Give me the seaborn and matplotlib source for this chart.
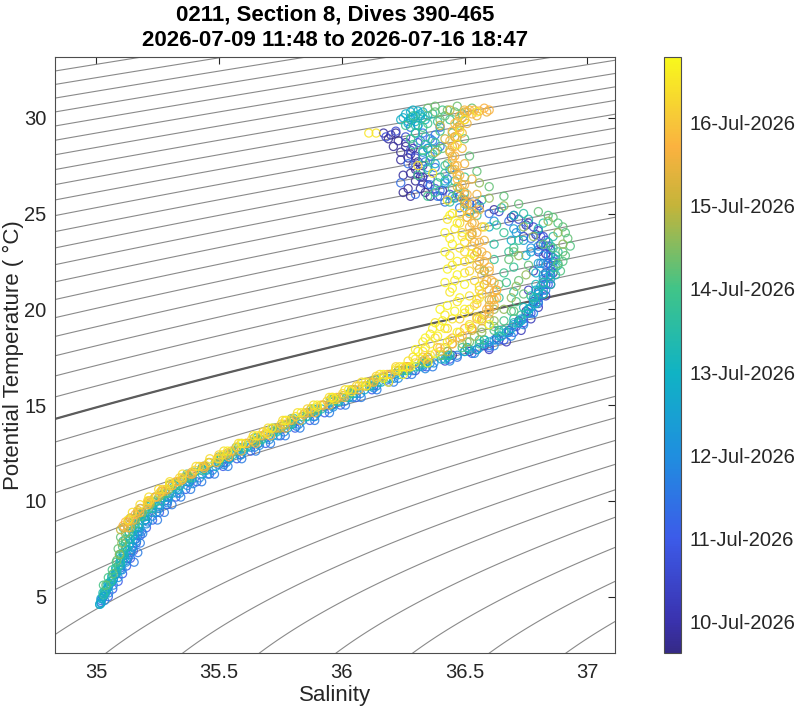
import numpy as np
import pandas as pd
import matplotlib
matplotlib.use('Agg')
import matplotlib.pyplot as plt
import matplotlib.dates as mdates
from matplotlib.colors import LinearSegmentedColormap, Normalize
import seaborn as sns

# Glider 0211, section 8: theta/salinity samples, grouped by dive time
dive_times = ['2026-07-09 18:00', '2026-07-09 20:00', '2026-07-10 05:00', '2026-07-10 14:00',
              '2026-07-11 00:00', '2026-07-11 08:00', '2026-07-11 12:00', '2026-07-11 15:00',
              '2026-07-11 22:00', '2026-07-11 23:00', '2026-07-12 02:00', '2026-07-12 12:00',
              '2026-07-12 17:00', '2026-07-12 20:00', '2026-07-12 22:00', '2026-07-13 05:00',
              '2026-07-13 08:00', '2026-07-13 14:00', '2026-07-13 17:00', '2026-07-13 19:00',
              '2026-07-13 22:00', '2026-07-14 01:00', '2026-07-14 03:00', '2026-07-14 06:00',
              '2026-07-14 08:00', '2026-07-14 15:00', '2026-07-14 17:00', '2026-07-15 00:00',
              '2026-07-15 10:00', '2026-07-15 12:00', '2026-07-15 17:00', '2026-07-15 18:00',
              '2026-07-15 20:00', '2026-07-16 05:00', '2026-07-16 06:00', '2026-07-16 09:00',
              '2026-07-16 12:00', '2026-07-16 15:00', '2026-07-16 17:00']

ts_0709a = [(36.19, 28.9), (36.21, 28.5), (36.24, 28.2), (36.27, 27.9), (36.29, 27.5), (36.28, 27.1),
            (36.30, 26.7), (36.32, 26.3), (36.36, 25.9), (36.26, 28.7), (36.22, 29.2), (36.30, 28.0),
            (36.33, 26.9), (36.25, 26.1), (36.28, 25.9)]

ts_0709b = [(36.45, 17.6), (36.52, 17.8), (36.58, 18.1), (36.63, 18.5), (36.68, 18.9), (36.72, 19.4),
            (36.75, 19.9), (36.78, 20.4), (36.80, 20.9), (36.82, 21.4), (36.83, 21.9), (36.84, 22.4),
            (36.83, 22.9), (36.81, 23.4), (36.79, 23.9), (36.75, 24.4), (36.69, 24.8), (36.62, 25.2),
            (36.55, 25.5), (36.48, 25.9), (36.41, 26.2), (36.35, 26.5), (36.32, 26.9), (36.30, 27.3),
            (36.31, 27.7), (36.28, 28.1), (36.26, 28.5), (36.23, 28.8), (36.20, 29.1), (36.17, 29.2),
            (36.27, 26.3), (36.33, 27.5), (36.25, 27.0), (36.29, 28.4), (36.24, 27.8), (36.34, 26.1)]

ts_0710a = [(36.60, 17.9), (36.67, 18.3), (36.73, 18.9), (36.77, 19.5), (36.80, 20.1), (36.83, 20.7),
            (36.85, 21.3), (36.86, 21.9), (36.86, 22.5), (36.85, 23.1), (36.83, 23.6), (36.80, 24.1),
            (36.76, 24.5), (36.70, 24.9), (36.78, 22.0), (36.80, 23.0), (36.76, 21.0), (36.74, 23.8)]

ts_0710b = [(35.03, 5.0), (35.08, 6.2), (35.13, 7.0), (35.16, 8.0), (35.20, 9.0), (35.28, 10.0),
            (35.38, 11.0), (35.52, 12.0), (35.66, 13.0), (35.80, 14.0), (35.96, 15.0), (36.13, 16.0),
            (36.30, 16.8), (36.42, 17.3), (36.55, 17.9), (36.64, 18.4), (36.71, 19.1), (36.76, 19.8),
            (36.80, 20.6), (36.83, 21.3), (36.85, 22.0), (36.86, 22.7), (36.84, 23.3), (36.82, 23.8),
            (36.78, 24.3), (36.72, 24.7), (36.64, 25.1), (36.56, 25.4), (36.50, 25.7), (36.44, 26.0),
            (36.38, 26.3), (36.36, 26.8), (36.32, 27.2), (36.30, 27.9), (36.28, 28.3), (36.31, 28.7),
            (36.26, 29.0), (36.22, 29.3), (36.18, 29.0), (36.40, 25.9), (36.33, 26.6)]

ts_0711a = [(35.05, 5.0), (35.068, 5.4), (35.09, 5.8), (35.108, 6.2), (35.124, 6.6), (35.14, 7.0),
            (35.152, 7.4), (35.164, 7.8), (35.18, 8.2), (35.205, 8.6), (35.23, 9.0), (35.258, 9.4),
            (35.289, 9.8), (35.325, 10.2), (35.365, 10.6), (35.41, 11.0), (35.462, 11.4), (35.517, 11.8),
            (35.573, 12.2), (35.63, 12.6), (35.69, 13.0), (35.75, 13.4), (35.81, 13.8), (35.87, 14.2),
            (35.93, 14.6), (35.995, 15.0), (36.059, 15.4), (36.123, 15.8), (36.191, 16.2), (36.265, 16.6),
            (36.345, 17.0), (36.44, 17.4), (36.53, 17.7), (36.60, 18.0), (36.66, 18.4), (36.70, 18.8),
            (36.74, 19.3), (36.77, 19.8), (36.80, 20.3), (36.82, 20.8), (36.84, 21.3), (36.85, 21.8),
            (36.85, 22.3), (36.84, 22.8), (36.83, 23.3), (36.81, 23.8)]

ts_0711b = [(35.02, 4.8), (35.05, 5.5), (35.10, 6.5), (35.14, 7.3), (35.17, 8.2), (35.21, 9.2),
            (35.29, 10.2), (35.39, 11.1), (35.50, 11.9), (35.63, 12.8), (35.77, 13.8), (35.90, 14.6),
            (36.03, 15.4), (36.18, 16.3), (36.33, 17.0), (36.47, 17.5), (36.60, 18.1), (36.68, 18.8),
            (36.74, 19.5), (36.79, 20.3), (36.82, 21.0), (36.84, 21.7), (36.82, 22.4), (36.80, 23.1),
            (36.77, 23.7), (36.73, 24.2), (36.68, 24.6), (36.60, 25.0), (36.52, 25.5), (36.45, 25.9),
            (36.40, 26.2), (36.43, 26.8), (36.38, 27.4), (36.36, 28.0), (36.40, 28.5), (36.36, 28.9),
            (36.33, 29.2), (36.28, 29.5), (36.30, 26.0), (36.24, 26.6), (36.27, 27.6)]

ts_0711c = [(36.32, 28.8), (36.35, 28.4), (36.38, 29.1), (36.40, 29.5), (36.36, 26.5), (36.39, 25.9),
            (36.42, 25.6), (36.48, 25.3), (36.34, 27.7)]

ts_0711d = [(35.155, 6.8), (35.17, 7.3), (35.18, 7.8), (35.19, 8.3), (35.25, 9.0), (35.278, 9.4),
            (35.309, 9.8), (35.345, 10.2), (35.385, 10.6), (35.43, 11.0), (35.482, 11.4), (35.537, 11.8),
            (35.593, 12.2), (35.65, 12.6), (35.71, 13.0), (35.77, 13.4), (35.83, 13.8), (35.89, 14.2),
            (35.95, 14.6), (36.015, 15.0), (36.079, 15.4), (36.143, 15.8), (36.211, 16.2), (36.285, 16.6),
            (36.37, 17.0)]

ts_0711e = [(35.025, 4.9), (35.045, 5.4), (35.07, 5.9), (35.10, 6.4), (35.125, 6.9), (35.145, 7.4),
            (35.165, 7.9), (35.185, 8.4), (35.21, 8.9), (35.245, 9.4), (35.29, 9.9), (35.34, 10.4),
            (35.395, 10.9), (35.455, 11.4), (35.52, 11.9), (35.59, 12.4), (35.665, 12.9), (35.74, 13.4),
            (35.815, 13.9), (35.89, 14.4), (35.965, 14.9), (36.045, 15.4), (36.13, 15.9), (36.23, 16.4),
            (36.34, 16.9), (36.44, 17.3), (36.54, 17.7), (36.62, 18.1), (36.69, 18.6), (36.74, 19.2),
            (36.78, 19.8), (36.80, 20.4), (36.83, 21.0), (36.85, 21.6), (36.86, 22.2), (36.85, 22.8)]

ts_0711f = [(35.035, 4.8), (35.052, 5.2), (35.07, 5.6), (35.09, 6.0), (35.106, 6.4), (35.122, 6.8),
            (35.136, 7.2), (35.148, 7.6), (35.16, 8.0), (35.175, 8.4), (35.205, 8.8), (35.23, 9.2),
            (35.258, 9.6), (35.292, 10.0), (35.33, 10.4), (35.372, 10.8), (35.421, 11.2), (35.474, 11.6),
            (35.53, 12.0), (35.586, 12.4), (35.645, 12.8), (35.705, 13.2), (35.765, 13.6), (35.825, 14.0),
            (35.885, 14.4), (35.947, 14.8), (36.012, 15.2), (36.076, 15.6), (36.142, 16.0), (36.213, 16.4),
            (36.29, 16.8), (36.375, 17.2), (36.47, 17.6), (36.56, 18.0), (36.63, 18.4), (36.68, 18.8),
            (36.72, 19.3), (36.76, 19.8), (36.78, 20.3), (36.80, 20.8), (36.82, 21.3), (36.83, 21.8),
            (36.83, 22.3), (36.82, 22.8), (36.80, 23.3)]

ts_0712a = [(35.02, 4.7), (35.04, 5.2), (35.07, 5.9), (35.11, 6.8), (35.15, 7.6), (35.17, 8.4),
            (35.20, 9.0), (35.25, 9.7), (35.31, 10.4), (35.37, 11.0), (35.45, 11.6), (35.54, 12.2),
            (35.60, 12.7), (35.70, 13.3), (35.83, 14.2), (35.95, 15.0), (36.06, 15.6), (36.20, 16.4),
            (36.36, 17.2), (36.50, 17.8), (36.62, 18.4), (36.70, 19.2), (36.76, 20.0), (36.80, 20.8),
            (36.82, 21.6), (36.81, 22.4), (36.77, 23.2), (36.71, 24.0), (36.62, 24.6), (36.55, 25.3),
            (36.47, 26.0), (36.42, 26.6), (36.35, 27.4), (36.33, 28.2), (36.37, 28.8), (36.31, 29.6),
            (36.28, 29.9), (36.44, 27.3)]

ts_0712b = [(35.02, 4.65), (35.035, 5.15), (35.055, 5.65), (35.08, 6.15), (35.10, 6.65), (35.115, 7.15),
            (35.135, 7.65), (35.15, 8.15), (35.17, 8.65), (35.195, 9.15), (35.23, 9.65), (35.275, 10.15),
            (35.325, 10.65), (35.38, 11.15), (35.44, 11.65), (35.505, 12.15), (35.575, 12.65),
            (35.65, 13.15), (35.725, 13.65), (35.80, 14.15), (35.875, 14.65), (35.955, 15.15),
            (36.035, 15.65), (36.12, 16.15), (36.22, 16.65), (36.33, 17.1), (36.43, 17.5), (36.52, 17.9),
            (36.60, 18.3), (36.67, 18.8), (36.73, 19.4), (36.76, 20.0), (36.79, 20.6), (36.81, 21.2),
            (36.82, 21.8), (36.80, 22.4), (36.77, 23.0), (36.74, 23.6), (36.70, 24.2)]

ts_0712c = [(35.015, 4.6), (35.03, 5.0), (35.045, 5.4), (35.065, 5.8), (35.083, 6.2), (35.099, 6.6),
            (35.115, 7.0), (35.127, 7.4), (35.139, 7.8), (35.151, 8.2), (35.175, 8.6), (35.20, 9.0),
            (35.228, 9.4), (35.259, 9.8), (35.295, 10.2), (35.335, 10.6), (35.38, 11.0), (35.432, 11.4),
            (35.487, 11.8), (35.543, 12.2), (35.60, 12.6), (35.66, 13.0), (35.72, 13.4), (35.78, 13.8),
            (35.84, 14.2), (35.90, 14.6), (35.965, 15.0), (36.029, 15.4), (36.093, 15.8), (36.161, 16.2),
            (36.235, 16.6), (36.315, 17.0), (36.405, 17.4), (36.50, 17.8), (36.58, 18.2), (36.64, 18.6),
            (36.69, 19.0), (36.73, 19.5), (36.76, 20.0), (36.78, 20.5), (36.79, 21.0)]

ts_0712d = [(35.015, 4.6), (35.02, 4.9), (35.035, 5.3), (35.05, 5.7), (35.065, 6.1), (35.08, 6.5),
            (35.10, 7.0), (35.12, 7.5), (35.14, 8.0), (35.16, 8.6), (35.19, 9.3), (35.24, 9.9),
            (35.30, 10.6), (35.36, 11.2), (35.43, 11.7), (35.52, 12.3), (35.62, 12.9), (35.74, 13.7),
            (35.86, 14.4), (35.99, 15.2), (36.12, 16.0), (36.27, 16.8), (36.42, 17.4), (36.55, 17.9),
            (36.65, 18.6), (36.72, 19.3), (36.77, 20.1), (36.80, 21.0), (36.79, 21.9), (36.75, 22.8),
            (36.69, 23.6), (36.60, 24.3), (36.52, 25.1), (36.46, 25.8), (36.42, 26.7), (36.38, 27.6),
            (36.35, 28.4), (36.30, 29.2), (36.27, 29.8), (36.30, 30.1), (36.32, 30.2), (36.28, 30.3),
            (36.25, 30.0), (36.34, 29.9), (36.29, 29.95), (36.31, 30.35)]

ts_0712e = [(36.26, 30.2), (36.28, 30.0), (36.30, 29.8), (36.32, 30.1), (36.27, 29.7), (36.33, 30.3),
            (36.29, 30.4), (36.31, 29.6), (36.35, 30.1), (36.24, 29.9)]

ts_0713a = [(35.04, 5.3), (35.06, 5.8), (35.085, 6.3), (35.10, 6.8), (35.11, 7.3), (35.12, 7.8),
            (35.135, 8.3), (35.155, 8.8), (35.185, 9.3), (35.225, 9.8), (35.27, 10.3), (35.32, 10.8),
            (35.375, 11.3), (35.44, 11.8), (35.51, 12.3), (35.58, 12.8), (35.655, 13.3), (35.73, 13.8),
            (35.805, 14.3), (35.885, 14.8), (35.965, 15.3), (36.05, 15.8), (36.14, 16.3), (36.245, 16.8),
            (36.34, 17.2), (36.43, 17.6), (36.51, 18.0), (36.58, 18.4), (36.64, 18.9), (36.70, 19.5),
            (36.74, 20.1), (36.77, 20.7), (36.79, 21.3), (36.85, 21.8), (36.87, 22.6), (36.84, 23.5),
            (36.80, 24.2), (36.76, 24.7), (36.70, 24.9)]

ts_0713b = [(35.028, 5.2), (35.045, 5.6), (35.064, 6.0), (35.081, 6.4), (35.097, 6.8), (35.111, 7.2),
            (35.123, 7.6), (35.135, 8.0), (35.148, 8.4), (35.175, 8.8), (35.199, 9.2), (35.228, 9.6),
            (35.262, 10.0), (35.30, 10.4), (35.342, 10.8), (35.391, 11.2), (35.444, 11.6), (35.50, 12.0),
            (35.556, 12.4), (35.615, 12.8), (35.675, 13.2), (35.735, 13.6), (35.795, 14.0), (35.855, 14.4),
            (35.917, 14.8), (35.982, 15.2), (36.046, 15.6), (36.112, 16.0), (36.183, 16.4), (36.26, 16.8),
            (36.34, 17.2), (36.43, 17.6), (36.51, 18.0), (36.58, 18.4), (36.64, 18.8), (36.70, 19.3),
            (36.75, 19.8), (36.79, 20.3), (36.82, 20.8), (36.85, 21.3), (36.87, 21.8), (36.88, 22.3),
            (36.87, 22.8), (36.85, 23.3)]

ts_0713c = [(35.03, 5.1), (35.06, 5.8), (35.09, 6.6), (35.10, 7.2), (35.11, 7.9), (35.13, 8.6),
            (35.16, 9.1), (35.21, 9.7), (35.27, 10.3), (35.33, 10.9), (35.40, 11.5), (35.50, 12.1),
            (35.58, 12.6), (35.67, 13.2), (35.79, 14.0), (35.90, 14.7), (36.02, 15.4), (36.15, 16.2),
            (36.30, 17.0), (36.44, 17.6), (36.56, 18.2), (36.66, 18.9), (36.73, 19.7), (36.78, 20.6),
            (36.82, 21.4), (36.87, 22.2), (36.88, 23.0), (36.86, 23.8), (36.82, 24.5), (36.74, 25.0),
            (36.65, 25.3), (36.57, 25.7), (36.50, 26.1), (36.46, 26.7), (36.42, 27.5), (36.39, 28.3),
            (36.34, 29.0), (36.30, 29.6), (36.33, 30.0), (36.37, 30.2), (36.58, 22.0), (36.62, 23.4)]

ts_0713d = [(36.30, 29.2), (36.34, 28.6), (36.37, 28.1), (36.35, 27.3), (36.40, 26.9), (36.38, 26.1),
            (36.44, 25.6), (36.33, 27.9), (36.29, 28.6), (36.39, 29.8)]

ts_0713e = [(36.64, 20.6), (36.67, 21.4), (36.70, 22.2), (36.68, 23.0), (36.72, 23.6), (36.66, 24.0),
            (36.62, 22.6), (36.70, 20.9)]

ts_0713f = [(36.35, 29.7), (36.40, 29.3), (36.38, 28.7), (36.33, 28.3), (36.36, 27.8), (36.42, 27.1),
            (36.39, 26.6), (36.45, 26.3), (36.50, 26.9), (36.44, 29.9), (36.49, 30.2), (36.41, 30.4),
            (36.29, 30.1), (36.33, 29.5), (36.28, 28.9), (36.26, 29.6), (36.31, 27.0), (36.35, 25.9),
            (36.55, 24.9), (36.63, 24.4), (36.70, 23.2), (36.66, 21.9)]

ts_0714a = [(35.03, 5.6), (35.05, 6.0), (35.066, 6.4), (35.082, 6.8), (35.096, 7.2), (35.108, 7.6),
            (35.12, 8.0), (35.133, 8.4), (35.16, 8.8), (35.184, 9.2), (35.213, 9.6), (35.245, 10.0),
            (35.285, 10.4), (35.327, 10.8), (35.376, 11.2), (35.429, 11.6), (35.485, 12.0), (35.541, 12.4),
            (35.60, 12.8), (35.66, 13.2), (35.72, 13.6), (35.78, 14.0), (35.84, 14.4), (35.902, 14.8),
            (35.967, 15.2), (36.031, 15.6), (36.097, 16.0), (36.168, 16.4), (36.245, 16.8), (36.325, 17.2),
            (36.41, 17.6), (36.49, 18.0), (36.56, 18.4), (36.62, 18.9), (36.66, 19.4), (36.69, 19.9),
            (36.71, 20.4)]

ts_0714b = [(36.89, 22.0), (36.91, 22.8), (36.93, 23.3), (36.91, 24.0), (36.88, 24.5), (36.84, 24.9),
            (36.86, 23.2), (36.90, 22.5)]

ts_0714c = [(35.04, 5.6), (35.07, 6.2), (35.085, 6.9), (35.09, 7.5), (35.10, 8.1), (35.11, 8.6),
            (35.14, 9.1), (35.18, 9.6), (35.24, 10.2), (35.30, 10.8), (35.37, 11.4), (35.46, 12.0),
            (35.55, 12.5), (35.65, 13.1), (35.76, 13.9), (35.88, 14.7), (36.00, 15.4), (36.13, 16.2),
            (36.27, 16.9), (36.40, 17.6), (36.52, 18.3), (36.62, 19.1), (36.70, 19.9), (36.74, 20.8),
            (36.72, 21.5), (36.76, 22.3), (36.70, 23.0), (36.82, 23.4), (36.90, 23.0), (36.92, 23.7),
            (36.90, 24.3), (36.86, 24.8), (36.80, 25.1), (36.72, 25.5), (36.66, 25.9), (36.60, 26.4),
            (36.55, 27.2), (36.52, 28.0), (36.50, 28.9), (36.48, 29.6), (36.42, 30.1), (36.38, 30.3),
            (36.46, 30.3), (36.53, 30.5), (36.88, 22.4), (36.64, 21.3), (36.68, 22.6)]

ts_0714d = [(36.35, 30.5), (36.38, 30.6), (36.43, 30.4), (36.47, 30.6), (36.40, 29.9), (36.45, 29.2),
            (36.41, 28.4), (36.43, 27.6), (36.47, 26.0), (36.50, 25.5)]

ts_0714e = [(35.095, 7.2), (35.105, 7.8), (35.12, 8.3), (35.14, 8.8), (35.17, 9.3), (35.21, 9.8),
            (35.26, 10.3), (35.31, 10.8), (35.37, 11.3), (35.435, 11.8), (35.50, 12.3), (35.57, 12.8),
            (35.645, 13.3), (35.72, 13.8), (35.795, 14.3), (35.875, 14.8), (35.955, 15.3), (36.04, 15.8),
            (36.13, 16.3), (36.23, 16.8), (36.33, 17.3), (36.43, 17.8), (36.51, 18.3), (36.57, 18.8),
            (36.62, 19.4), (36.66, 20.0), (36.69, 20.6), (36.71, 21.2), (36.75, 21.8), (36.72, 22.8),
            (36.78, 23.8), (36.84, 24.6), (36.90, 23.4), (36.88, 24.0), (36.74, 24.3), (36.66, 25.4),
            (36.60, 25.8), (36.56, 26.6)]

ts_0714f = [(35.14, 8.6), (35.16, 9.0), (35.188, 9.4), (35.219, 9.8), (35.255, 10.2), (35.295, 10.6),
            (35.34, 11.0), (35.392, 11.4), (35.447, 11.8), (35.503, 12.2), (35.56, 12.6), (35.62, 13.0),
            (35.68, 13.4), (35.74, 13.8), (35.80, 14.2), (35.86, 14.6), (35.925, 15.0), (35.989, 15.4),
            (36.053, 15.8), (36.121, 16.2), (36.195, 16.6), (36.275, 17.0), (36.355, 17.4), (36.43, 17.8),
            (36.49, 18.2), (36.54, 18.6), (36.57, 19.0), (36.60, 19.5), (36.62, 20.0)]

ts_0715a = [(35.10, 8.5), (35.13, 8.9), (35.17, 9.4), (35.22, 9.9), (35.28, 10.5), (35.35, 11.1),
            (35.44, 11.8), (35.53, 12.4), (35.64, 13.1), (35.75, 13.8), (35.87, 14.6), (35.98, 15.3),
            (36.10, 16.0), (36.23, 16.8), (36.35, 17.5), (36.45, 18.2), (36.53, 18.9), (36.58, 19.7),
            (36.60, 20.5), (36.58, 21.3), (36.56, 22.1), (36.55, 23.0), (36.53, 23.9), (36.51, 24.8),
            (36.50, 25.6), (36.47, 26.4), (36.45, 27.3), (36.44, 28.2), (36.46, 29.0), (36.47, 29.8),
            (36.50, 30.3), (36.44, 30.4), (36.40, 29.6), (36.42, 28.9), (36.38, 28.2)]

ts_0715b = [(35.115, 8.6), (35.135, 9.0), (35.17, 9.5), (35.215, 10.0), (35.265, 10.5), (35.325, 11.0),
            (35.39, 11.5), (35.46, 12.0), (35.535, 12.5), (35.61, 13.0), (35.69, 13.5), (35.765, 14.0),
            (35.845, 14.5), (35.925, 15.0), (36.005, 15.5), (36.085, 16.0), (36.17, 16.5), (36.26, 17.0),
            (36.35, 17.5), (36.42, 18.0), (36.48, 18.5), (36.53, 19.0), (36.57, 19.5), (36.60, 20.0),
            (36.61, 20.5), (36.60, 21.0), (36.59, 21.5), (36.58, 22.0), (36.56, 22.5), (36.55, 23.0),
            (36.54, 23.5), (36.53, 24.0), (36.53, 24.5), (36.52, 25.0), (36.51, 25.5), (36.50, 26.0),
            (36.49, 26.5), (36.47, 27.0), (36.46, 27.5), (36.45, 28.0), (36.45, 28.5), (36.46, 29.0),
            (36.47, 29.5), (36.49, 30.0), (36.51, 30.3)]

ts_0715c = [(36.60, 20.2), (36.62, 20.9), (36.62, 21.4), (36.60, 22.2), (36.59, 22.8), (36.58, 23.6),
            (36.57, 24.3), (36.56, 25.2), (36.55, 26.0), (36.53, 26.8), (36.50, 27.6), (36.49, 28.4),
            (36.49, 29.2), (36.51, 29.7), (36.55, 30.1), (36.59, 30.3)]

ts_0715d = [(35.11, 8.7), (35.12, 8.9), (35.14, 9.1), (35.16, 9.3), (35.18, 9.6), (35.21, 9.9),
            (35.24, 10.2), (35.27, 10.5), (35.31, 10.8), (35.35, 11.1), (35.39, 11.4), (35.44, 11.7),
            (35.49, 12.0), (35.54, 12.3), (35.59, 12.6), (35.65, 13.0), (35.71, 13.4), (35.77, 13.8),
            (35.83, 14.2), (35.89, 14.6), (35.95, 15.0), (36.01, 15.4), (36.07, 15.8), (36.13, 16.2),
            (36.20, 16.6), (36.27, 17.0), (36.33, 17.5), (36.39, 18.0), (36.45, 18.5), (36.50, 19.0),
            (36.55, 19.5), (36.59, 20.0), (36.62, 20.5), (36.63, 21.0), (36.61, 21.5), (36.60, 22.0),
            (36.58, 22.5), (36.57, 23.0), (36.56, 23.5), (36.55, 24.0), (36.54, 24.5), (36.54, 25.0),
            (36.53, 25.5), (36.51, 26.0), (36.50, 26.5), (36.48, 27.0), (36.47, 27.5), (36.46, 28.0),
            (36.46, 28.5), (36.47, 29.0), (36.48, 29.5), (36.50, 29.9), (36.53, 30.2), (36.56, 30.35),
            (36.60, 30.4), (36.58, 30.5), (36.52, 30.4)]

ts_0715e = [(35.13, 8.6), (35.15, 9.0), (35.178, 9.4), (35.209, 9.8), (35.245, 10.2), (35.285, 10.6),
            (35.33, 11.0), (35.382, 11.4), (35.437, 11.8), (35.493, 12.2), (35.55, 12.6), (35.61, 13.0),
            (35.67, 13.4), (35.73, 13.8), (35.79, 14.2), (35.85, 14.6), (35.915, 15.0), (35.979, 15.4),
            (36.043, 15.8), (36.111, 16.2), (36.185, 16.6), (36.265, 17.0), (36.34, 17.4), (36.40, 17.8),
            (36.45, 18.2), (36.49, 18.6), (36.53, 19.0), (36.57, 19.4), (36.60, 19.8), (36.62, 20.2),
            (36.63, 20.6), (36.63, 21.0)]

ts_0715f = [(36.55, 20.3), (36.57, 20.8), (36.58, 21.3), (36.57, 21.8), (36.55, 22.3), (36.54, 22.8),
            (36.53, 23.3), (36.52, 23.8), (36.52, 24.3), (36.51, 24.8), (36.50, 25.3), (36.49, 25.8),
            (36.48, 26.3), (36.47, 26.8), (36.46, 27.3), (36.45, 27.8), (36.44, 28.3), (36.44, 28.8),
            (36.45, 29.3), (36.46, 29.7), (36.48, 30.1), (36.50, 30.4), (36.54, 30.4)]

ts_0716a = [(35.21, 10.0), (35.27, 10.6), (35.34, 11.2), (35.42, 11.8), (35.50, 12.4), (35.59, 13.0),
            (35.68, 13.6), (35.77, 14.2), (35.86, 14.8), (35.96, 15.4), (36.06, 16.0), (36.14, 16.5),
            (36.22, 17.0), (36.29, 17.5), (36.34, 18.0), (36.38, 18.5), (36.43, 19.0), (36.48, 19.5),
            (36.52, 20.0), (36.55, 20.5), (36.56, 21.0), (36.54, 21.5), (36.52, 22.0), (36.50, 22.5),
            (36.50, 23.0), (36.50, 23.5), (36.49, 24.0), (36.48, 24.5), (36.48, 25.0)]

ts_0716b = [(35.218, 10.0), (35.258, 10.4), (35.30, 10.8), (35.349, 11.2), (35.402, 11.6), (35.458, 12.0),
            (35.514, 12.4), (35.573, 12.8), (35.633, 13.2), (35.693, 13.6), (35.753, 14.0), (35.813, 14.4),
            (35.875, 14.8), (35.94, 15.2), (36.004, 15.6), (36.07, 16.0), (36.141, 16.4), (36.218, 16.8),
            (36.298, 17.2), (36.36, 17.6), (36.40, 18.0), (36.44, 18.4), (36.48, 18.8), (36.52, 19.2),
            (36.55, 19.6)]

ts_0716c = [(35.148, 9.4), (35.179, 9.8), (35.215, 10.2), (35.255, 10.6), (35.30, 11.0), (35.352, 11.4),
            (35.407, 11.8), (35.463, 12.2), (35.52, 12.6), (35.58, 13.0), (35.64, 13.4), (35.70, 13.8),
            (35.76, 14.2), (35.82, 14.6), (35.885, 15.0), (35.949, 15.4), (36.013, 15.8), (36.081, 16.2),
            (36.155, 16.6), (36.235, 17.0)]

ts_0716d = [(35.13, 9.0), (35.30, 10.9), (35.50, 12.2), (35.70, 13.5), (35.90, 14.9), (35.97, 15.3),
            (36.04, 15.7), (36.10, 16.0), (36.17, 16.4), (36.22, 16.9), (36.27, 17.3), (36.31, 17.8),
            (36.33, 18.3), (36.36, 18.7), (36.40, 19.1), (36.45, 19.5), (36.50, 19.8), (36.54, 20.2),
            (36.47, 20.4), (36.44, 20.9), (36.46, 21.5), (36.50, 21.9), (36.45, 22.3), (36.44, 22.8),
            (36.48, 23.2), (36.44, 23.7), (36.46, 24.2), (36.43, 24.7), (36.45, 25.0), (36.52, 22.6),
            (36.56, 21.2), (36.52, 20.7), (36.42, 19.7), (36.38, 19.3), (36.43, 25.7), (36.37, 27.1),
            (36.31, 27.5), (36.47, 28.6), (36.48, 29.3), (36.50, 29.9), (36.55, 30.3), (36.11, 29.2),
            (36.14, 29.2), (36.58, 24.3), (36.56, 20.6)]

ts_0716e = [(35.535, 12.6), (35.595, 13.0), (35.655, 13.4), (35.715, 13.8), (35.775, 14.2), (35.835, 14.6),
            (35.90, 15.0), (35.964, 15.4), (36.028, 15.8), (36.096, 16.2), (36.17, 16.6), (36.25, 17.0),
            (36.30, 17.4), (36.33, 17.8), (36.36, 18.2), (36.39, 18.6), (36.42, 19.0)]

ts_0716f = [(36.30, 17.9), (36.34, 18.5), (36.37, 19.0), (36.41, 19.4), (36.46, 19.9), (36.43, 20.2),
            (36.48, 20.6), (36.45, 21.1), (36.42, 21.4), (36.47, 21.8), (36.43, 22.1), (36.47, 22.5),
            (36.42, 23.0), (36.45, 23.4), (36.42, 24.0), (36.47, 24.5), (36.44, 24.9), (36.49, 23.8),
            (36.50, 21.3), (36.53, 22.9), (36.40, 20.0), (36.50, 20.0), (36.56, 19.5), (36.60, 19.2),
            (36.52, 19.1), (36.47, 18.8), (36.43, 18.3), (36.38, 17.7), (36.35, 17.2), (36.28, 17.0),
            (36.25, 16.6), (36.19, 16.2)]

dive_groups = [ts_0709a, ts_0709b, ts_0710a, ts_0710b, ts_0711a, ts_0711b, ts_0711c, ts_0711d,
               ts_0711e, ts_0711f, ts_0712a, ts_0712b, ts_0712c, ts_0712d, ts_0712e, ts_0713a,
               ts_0713b, ts_0713c, ts_0713d, ts_0713e, ts_0713f, ts_0714a, ts_0714b, ts_0714c,
               ts_0714d, ts_0714e, ts_0714f, ts_0715a, ts_0715b, ts_0715c, ts_0715d, ts_0715e,
               ts_0715f, ts_0716a, ts_0716b, ts_0716c, ts_0716d, ts_0716e, ts_0716f]

cbar_ticks = pd.date_range('2026-07-10', '2026-07-16', freq='D')
clim = ('2026-07-09 14:58', '2026-07-16 18:52')

# parula-like colormap, anchors picked from the reference colorbar
parula_pos = [0.0, 0.0525, 0.192, 0.332, 0.471, 0.611, 0.751, 0.85, 0.89, 1.0]
parula_hex = ['#352a87', '#3a32ae', '#3c5be9', '#1f8fdf', '#10b3c4', '#40c488', '#c4b43a',
              '#fbb23f', '#f7c43a', '#f8f81c']
parula = LinearSegmentedColormap.from_list('parula', list(zip(parula_pos, parula_hex)))


def sigma0(s, t):
    # UNESCO EOS-80 density at the surface, minus 1000
    rho_w = (999.842594 + 6.793952e-2 * t - 9.095290e-3 * t**2 + 1.001685e-4 * t**3
             - 1.120083e-6 * t**4 + 6.536332e-9 * t**5)
    a = 8.24493e-1 - 4.0899e-3 * t + 7.6438e-5 * t**2 - 8.2467e-7 * t**3 + 5.3875e-9 * t**4
    b = -5.72466e-3 + 1.0227e-4 * t - 1.6546e-6 * t**2
    c = 4.8314e-4
    return rho_w + a * s + b * s**1.5 + c * s**2 - 1000.0


rows = []
for when, pts in zip(dive_times, dive_groups):
    for s, t in pts:
        rows.append({'time': pd.Timestamp(when), 'salinity': s, 'theta': t})
df = pd.DataFrame(rows)
df['tnum'] = mdates.date2num(df['time'])

sns.set_theme(style='white')
plt.rcParams['font.family'] = ['Liberation Sans', 'DejaVu Sans']
plt.rcParams['axes.linewidth'] = 0.8

fig = plt.figure(figsize=(8.0, 7.14), dpi=100)
ax = fig.add_axes([55 / 800, 1 - 653 / 714, 560 / 800, 596 / 714])
cax = fig.add_axes([664 / 800, 1 - 653 / 714, 17 / 800, 596 / 714])

xlim = (34.833, 37.112)
ylim = (2.06, 33.17)

# density contours in the background
sg, tg = np.meshgrid(np.linspace(34.6, 37.3, 300), np.linspace(0.0, 35.0, 300))
sig = sigma0(sg, tg)
ax.contour(sg, tg, sig, levels=np.arange(18.0, 31.0, 0.25), colors='#8a8a8a',
           linewidths=0.8, zorder=1)
ax.contour(sg, tg, sig, levels=[26.0], colors='#5c5c5c', linewidths=1.6, zorder=1)

norm = Normalize(mdates.date2num(pd.Timestamp(clim[0])), mdates.date2num(pd.Timestamp(clim[1])))
sns.scatterplot(data=df, x='salinity', y='theta', hue='tnum', palette=parula, hue_norm=norm,
                marker='o', s=34, linewidth=0.9, alpha=0.85, legend=False, ax=ax, zorder=3)
pts = ax.collections[-1]
pts.set_edgecolors(pts.get_facecolors())
pts.set_facecolors('none')

ax.set_xlim(*xlim)
ax.set_ylim(*ylim)
ax.set_xticks([35, 35.5, 36, 36.5, 37])
ax.set_xticklabels(['35', '35.5', '36', '36.5', '37'])
ax.set_yticks([5, 10, 15, 20, 25, 30])
ax.tick_params(direction='in', top=True, right=True, length=5, width=0.8,
               colors='#262626', labelsize=14.5)
ax.tick_params(axis='x', pad=7)
ax.tick_params(axis='y', pad=6)
for sp in ax.spines.values():
    sp.set_color('#4d4d4d')
ax.set_xlabel('Salinity', fontsize=16, color='#262626', labelpad=2)
ax.set_ylabel('Potential Temperature ( \u00b0C)', fontsize=16, color='#262626', labelpad=0)
ax.set_title('0211, Section 8, Dives 390-465\n2026-07-09 11:48 to 2026-07-16 18:47',
             fontsize=16, fontweight='bold', color='black', pad=8, linespacing=1.25)

sm = plt.cm.ScalarMappable(norm=norm, cmap=parula)
cb = fig.colorbar(sm, cax=cax)
cb.set_ticks(mdates.date2num(cbar_ticks))
cb.set_ticklabels([d.strftime('%d-%b-%Y') for d in cbar_ticks])
cb.ax.tick_params(direction='in', left=True, right=True, length=5, width=0.8,
                  colors='#262626', labelsize=14.5, pad=6)
cb.outline.set_edgecolor('#4d4d4d')
cb.outline.set_linewidth(0.8)

fig.savefig('out.png', dpi=100)
